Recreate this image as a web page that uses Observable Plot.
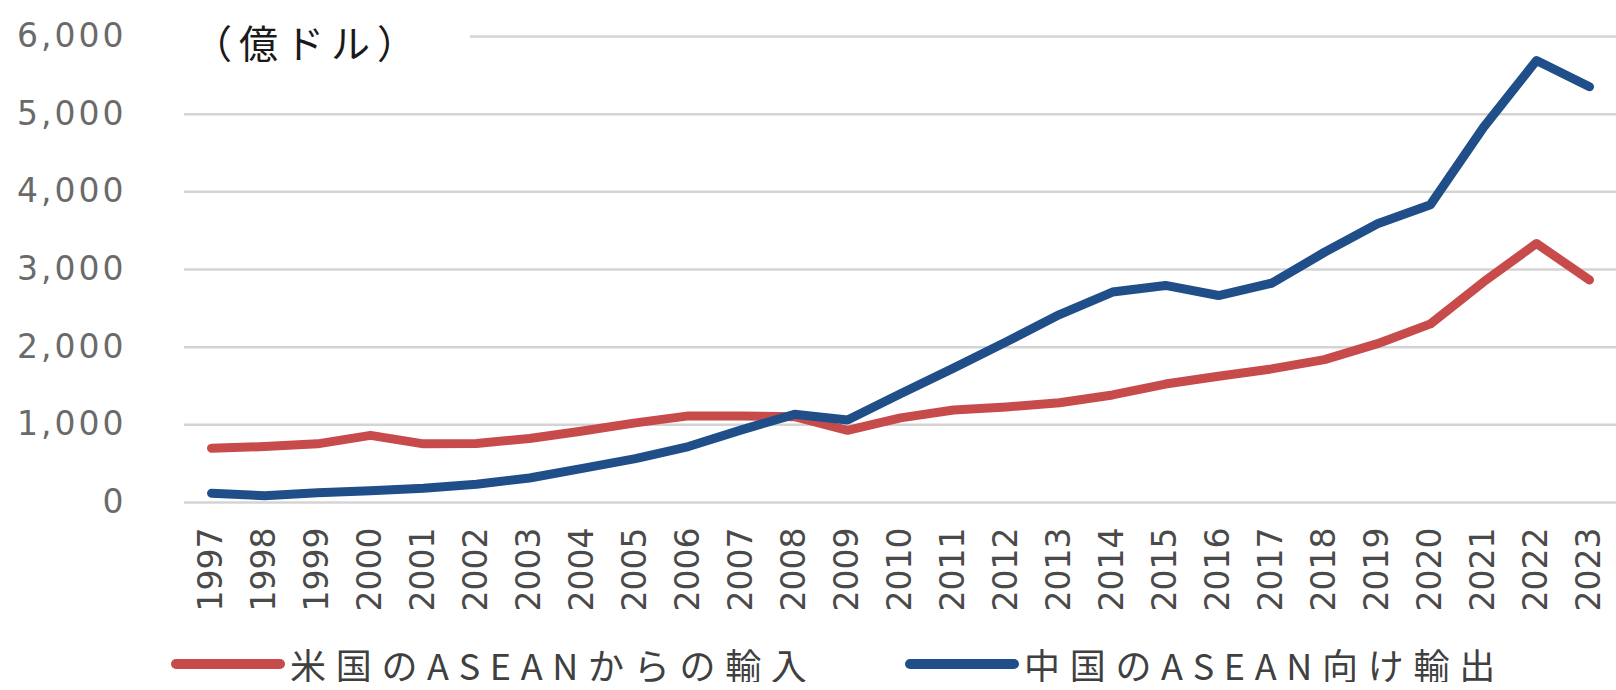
<!DOCTYPE html>
<html lang="ja">
<head>
<meta charset="utf-8">
<script src="https://cdn.jsdelivr.net/npm/d3@7"></script>
<script src="https://cdn.jsdelivr.net/npm/@observablehq/plot@0.6"></script>
<style>
  html, body { margin: 0; padding: 0; background: #fff; overflow: hidden; }
  #wrap { position: relative; width: 1616px; }
  #unit {
    position: absolute; left: 184px; top: 14px; width: 286px; height: 54px;
    background: #fff; font-family: "Noto Sans CJK JP", sans-serif; font-size: 39px;
    line-height: 54px; letter-spacing: 7px; color: #1a1a1a; padding-left: 9px; box-sizing: border-box;
  }
  #legend { position: relative; width: 1616px; height: 36px; margin-top: 26px; }
  .item { position: absolute; top: 0; height: 36px; display: flex; align-items: center;
    font-family: "Noto Sans CJK JP", sans-serif; font-size: 36px; line-height: 36px;
    letter-spacing: 9.7px; color: #404040; white-space: nowrap; }
  .swatch { display: inline-block; width: 114px; height: 10px; border-radius: 5px; margin-right: 5px; }
</style>
</head>
<body>
<div id="wrap">
  <div id="chart"></div>
  <div id="unit">（億ドル）</div>
</div>
<div id="legend"></div>
<script>
// 年次（カテゴリ）
const years = [1997, 1998, 1999, 2000, 2001, 2002, 2003, 2004, 2005, 2006, 2007, 2008, 2009,
  2010, 2011, 2012, 2013, 2014, 2015, 2016, 2017, 2018, 2019, 2020, 2021, 2022, 2023];

// 米国のASEANからの輸入（億ドル）
const usImports = [700, 720, 755, 865, 755, 760, 825, 920, 1025, 1115, 1115, 1105, 930,
  1090, 1190, 1230, 1285, 1385, 1525, 1625, 1720, 1840, 2045, 2300, 2840, 3335, 2865];

// 中国のASEAN向け輸出（億ドル）
const chinaExports = [118, 88, 125, 150, 183, 235, 315, 440, 565, 720, 935, 1135, 1062,
  1400, 1730, 2070, 2420, 2710, 2795, 2665, 2823, 3222, 3590, 3835, 4830, 5690, 5354];

// 目盛り
const yTicks = [0, 1000, 2000, 3000, 4000, 5000, 6000];

// 系列名と色
const seriesNames = ["米国のASEANからの輸入", "中国のASEAN向け輸出"];
const seriesColors = ["#c84b4c", "#1f4e89"];

const usRows = years.map((year, i) => ({year, value: usImports[i]}));
const cnRows = years.map((year, i) => ({year, value: chinaExports[i]}));

const lineStyle = {x: "year", y: "value", strokeWidth: 9, strokeLinecap: "round", strokeLinejoin: "round"};

const chart = Plot.plot({
  width: 1616,
  height: 620,
  marginLeft: 184,
  marginRight: 0,
  marginTop: 36,
  marginBottom: 118,
  style: {fontFamily: "'DejaVu Sans'", background: "#fff", overflow: "visible"},
  x: {type: "point", domain: years, padding: 0.412, label: null},
  y: {domain: [0, 6000], label: null},
  marks: [
    Plot.gridY(yTicks, {stroke: "#d4d4d4", strokeOpacity: 1, strokeWidth: 2.5}),
    Plot.axisY(yTicks, {tickSize: 0, tickPadding: 58, tickFormat: d3.format(","), fontSize: 33,
      fontFamily: "DejaVu Sans", fill: "#6a6a6a", label: null}),
    Plot.axisX(years, {tickSize: 0, tickPadding: 25, tickRotate: -90, tickFormat: d => String(d), fontSize: 33,
      fontFamily: "DejaVu Sans", fill: "#4a4a4a", label: null}),
    Plot.lineY(usRows, {...lineStyle, stroke: seriesColors[0]}),
    Plot.lineY(cnRows, {...lineStyle, stroke: seriesColors[1]})
  ]
});

// y 軸ラベルの字間を広げる
d3.select(chart).selectAll("g[aria-label='y-axis tick label'] text").attr("letter-spacing", "3px");

document.getElementById("chart").appendChild(chart);

// 凡例
const legend = d3.select("#legend");
const legendLeft = [171, 905];
seriesNames.forEach((name, i) => {
  const item = legend.append("div").attr("class", "item").style("left", legendLeft[i] + "px");
  item.append("span").attr("class", "swatch").style("background", seriesColors[i]);
  item.append("span").text(name);
});
</script>
</body>
</html>
